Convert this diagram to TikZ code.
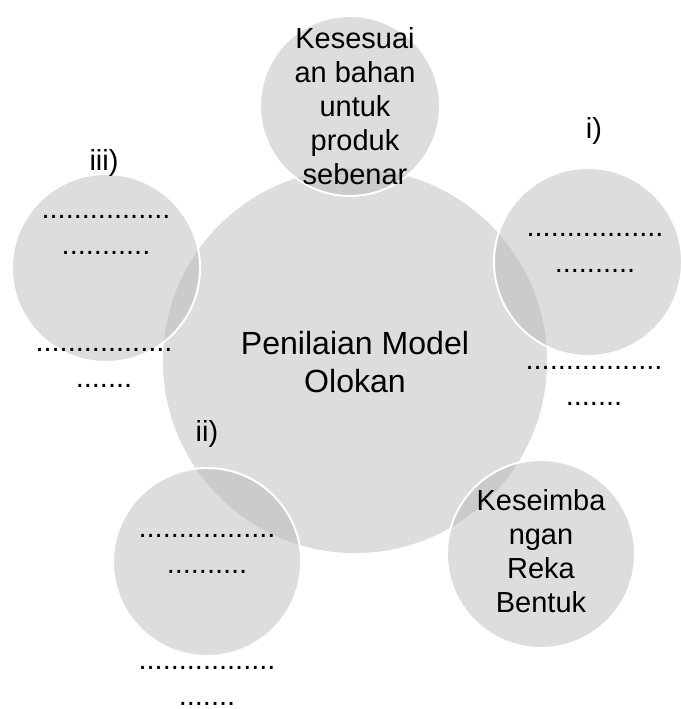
\documentclass[tikz,border=0pt]{standalone}
\usepackage{fontspec}
\setmainfont{Liberation Sans}
\definecolor{corefill}{HTML}{DDDDDD}
\definecolor{petalfill}{HTML}{BBBBBB}

\begin{document}
\begin{tikzpicture}[x=0.025cm, y=-0.025cm,
		core/.style={circle, fill=corefill, inner sep=0pt, minimum size=9.6cm},
		petal/.style={circle, fill=petalfill, fill opacity=0.5, draw=white, line width=1.4pt, inner sep=0pt, minimum size=4.7cm},
		txt/.style={font=\fontsize{20.6}{24.2}\selectfont, align=center, inner sep=0pt},
		dots/.style={font=\fontsize{20.6}{25.6}\selectfont, align=center, inner sep=0pt}]
			\useasboundingbox (0,0) rectangle (680,709);
			% circles
			\node[core] (mid) at (355,361) {};
			\node[petal, minimum size=4.5cm] (topc) at (350,106) {};
			\node[petal] (rightc) at (588,262) {};
			\node[petal] (leftc) at (106,268) {};
			\node[petal] (lowleftc) at (207,562) {};
			\node[petal] (lowrightc) at (541,554) {};
			% texts
			\node[font=\fontsize{22.8}{27}\selectfont, align=center, inner sep=0pt] (midtxt) at (355,366) {\strut Penilaian Model\\ Olokan\strut};
			\node[txt] (toptxt) at (355,110) {\strut Kesesuai\\ an bahan\\ untuk\\ produk\\ sebenar\strut};
			\node[txt] (lowrighttxt) at (541,555) {\strut Keseimba\\ ngan\\ Reka\\ Bentuk\strut};
			\node[txt] (labi) at (594,131) {i)};
			\node[txt] (labii) at (207,434) {ii)};
			\node[txt] (labiii) at (104,163) {iii)};
			\node[dots] (rightda) at (595,247) {\strut .................\\ ..........\strut};
			\node[dots] (rightdb) at (594,380) {\strut .................\\ .......\strut};
			\node[dots] (leftda) at (106,229) {\strut ................\\ ...........\strut};
			\node[dots] (leftdb) at (104,362) {\strut .................\\ .......\strut};
			\node[dots] (lowleftda) at (207,548) {\strut .................\\ ..........\strut};
			\node[dots] (lowleftdb) at (207,675) {\strut .................\\ .......};
		\end{tikzpicture}
\end{document}
